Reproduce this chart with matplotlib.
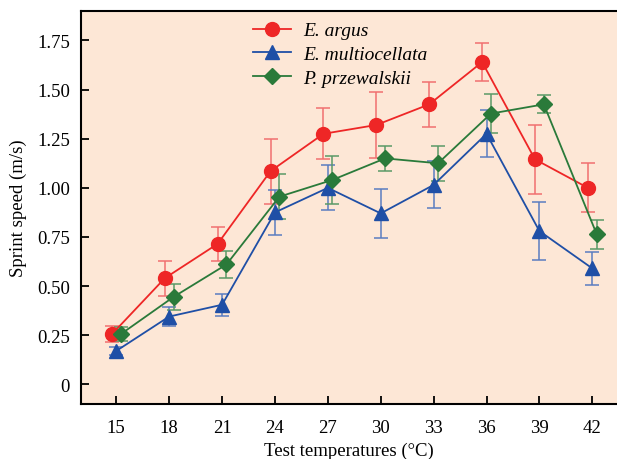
import matplotlib
matplotlib.use('Agg')
import matplotlib.pyplot as plt
import numpy as np

# data
temps = np.array([15, 18, 21, 24, 27, 30, 33, 36, 39, 42])

argus = [0.255, 0.54, 0.715, 1.085, 1.275, 1.32, 1.425, 1.64, 1.145, 1.0]
argus_err = [0.04, 0.09, 0.085, 0.165, 0.13, 0.17, 0.115, 0.095, 0.175, 0.125]

multi = [0.17, 0.345, 0.405, 0.875, 1.0, 0.87, 1.015, 1.275, 0.78, 0.59]
multi_err = [0.02, 0.05, 0.055, 0.115, 0.115, 0.125, 0.12, 0.12, 0.147, 0.085]

przew = [0.255, 0.445, 0.61, 0.955, 1.04, 1.15, 1.125, 1.378, 1.425, 0.764]
przew_err = [0.035, 0.065, 0.07, 0.115, 0.12, 0.063, 0.088, 0.1, 0.046, 0.073]

plt.rcParams['font.family'] = ['Liberation Serif', 'DejaVu Serif']

fig = plt.figure(figsize=(6.17, 4.6), dpi=100)
ax = fig.add_axes([0.1313, 0.1196, 0.8687, 0.8543])
ax.set_facecolor('#fde7d6')

series = [
    (argus, argus_err, -0.25, '#ee2626', '#f07070', 'o', 10, 'E. argus'),
    (multi, multi_err, 0.0, '#1f4fa6', '#5a7cc0', '^', 10, 'E. multiocellata'),
    (przew, przew_err, 0.25, '#2a7a3a', '#5a9a66', 'D', 8.5, 'P. przewalskii'),
]
for vals, err, dx, col, ecol, mk, ms, lab in series:
    x = temps + dx
    ax.errorbar(x, vals, yerr=err, fmt='none', ecolor=ecol, elinewidth=1.1,
                capsize=5, capthick=1.1, zorder=2)
    ax.plot(x, vals, color=col, lw=1.3, marker=mk, ms=ms, label=lab, zorder=3)

ax.set_xlim(13, 43.4)
ax.set_ylim(-0.1, 1.9)
ax.set_xticks(temps)
ax.set_yticks([0, 0.25, 0.5, 0.75, 1.0, 1.25, 1.5, 1.75])
ax.set_yticklabels(['0', '0.25', '0.50', '0.75', '1.00', '1.25', '1.50', '1.75'])
ax.tick_params(direction='in', length=6, width=1.3, labelsize=13.5)
ax.tick_params(axis='x', pad=11)
ax.tick_params(axis='y', pad=8)
for s in ['left', 'bottom', 'top']:
    ax.spines[s].set_linewidth(1.5)
ax.spines['right'].set_visible(False)

ax.set_xlabel('Test temperatures (°C)', fontsize=13.5, labelpad=4)
ax.set_ylabel('Sprint speed (m/s)', fontsize=13.5, labelpad=7)

leg = ax.legend(loc='upper left', bbox_to_anchor=(0.30, 1.0), frameon=False,
                prop={'style': 'italic', 'size': 14}, handlelength=2.0,
                handletextpad=0.6, labelspacing=0.32, borderaxespad=0.15)

fig.savefig('out.png', dpi=100)
